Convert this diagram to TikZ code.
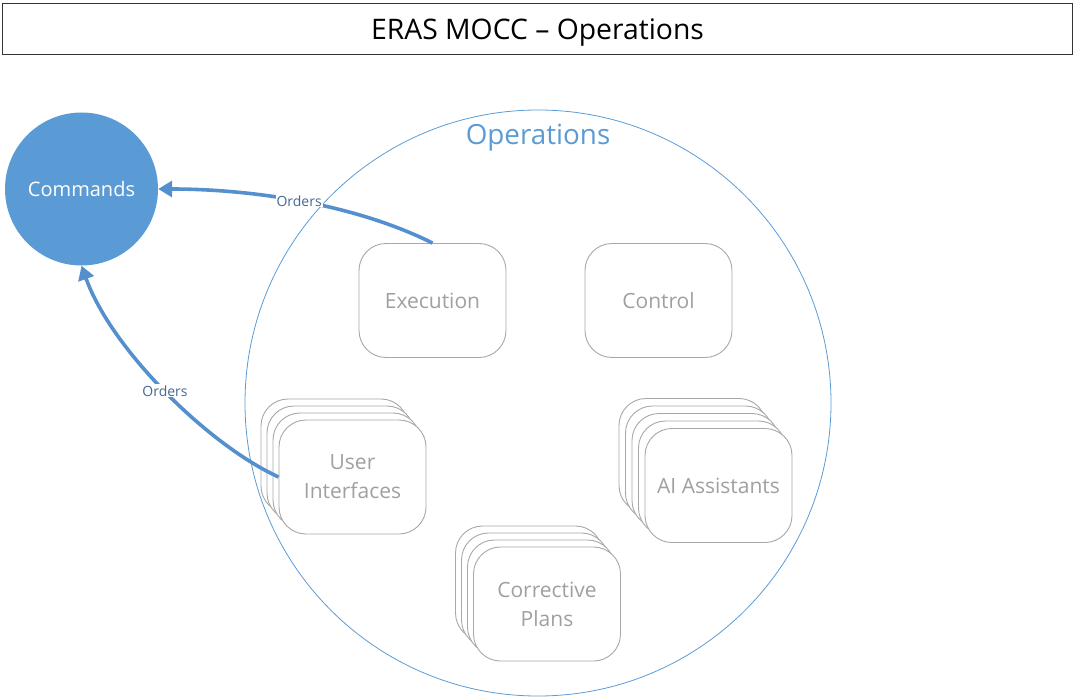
\documentclass[tikz,border=0pt]{standalone}
\usepackage{fontspec}
\setmainfont{Open Sans}
\usetikzlibrary{arrows.meta}
\definecolor{opsblue}{RGB}{91, 155, 213}
\definecolor{linkblue}{RGB}{84, 144, 205}
\definecolor{labelblue}{RGB}{68, 104, 150}
\definecolor{boxgray}{RGB}{168, 168, 168}
\definecolor{textgray}{RGB}{160, 160, 160}

\tikzset{
  unitbox/.style={draw=boxgray, line width=0.9pt, fill=white, rounded corners=27pt,
    minimum width=147pt, minimum height=114pt, inner sep=0pt, text=textgray, align=center,
    font=\fontsize{21}{29}\selectfont},
  orderlink/.style={draw=linkblue, line width=3.6pt, -{Triangle[length=14pt,width=16pt]}},
  orderlabel/.style={fill=white, text=labelblue, inner sep=1pt, font=\fontsize{14}{16}\selectfont},
}

\begin{document}
\begin{tikzpicture}[x=1pt, y=-1pt]
  \useasboundingbox (0,0) rectangle (1076,698);
  % Title
  \node[draw=black!80, line width=0.9pt, minimum width=1070pt, minimum height=51pt,
    text depth=0pt, font=\fontsize{28.3}{32}\selectfont] (title) at (537.5,29) {ERAS MOCC – Operations};
  % Operations circle
  \node[circle, draw=opsblue, line width=0.8pt, minimum size=586pt] (ops) at (538,403) {};
  \node[text=opsblue, font=\fontsize{27.8}{32}\selectfont] (opslabel) at (538,138) {Operations};
  % Commands
  \node[circle, fill=opsblue, minimum size=153pt, text=white,
    font=\fontsize{20}{24}\selectfont] (cmd) at (81.5,189) {Commands};
  % Single units
  \node[unitbox] (exec) at (432.5,300.5) {Execution};
  \node[unitbox] (ctrl) at (658.5,300.5) {Control};
  % Stacked units
  \foreach \k in {3,2,1}
    \node[unitbox] (ui\k) at (352.5-6*\k,477-7*\k) {};
  \node[unitbox] (ui) at (352.5,477) {User\\Interfaces};
  \foreach \k in {3,2,1}
    \node[unitbox] (plan\k) at (547-6*\k,604-7*\k) {};
  \node[unitbox] (plan) at (547,604) {Corrective\\Plans};
  \foreach \k in {4,3,2,1}
    \node[unitbox] (ai\k) at (718.5-6.5*\k,485.5-7.5*\k) {};
  \node[unitbox] (ai) at (718.5,485.5) {AI Assistants};
  % Orders
  \draw[orderlink] (exec.north) .. controls +(-80,-40) and +(90,0) .. (cmd.east)
    node[orderlabel, pos=0.5] (ord1) {Orders};
  \draw[orderlink] (ui.west) .. controls +(-70,-32) and +(30,84) .. (cmd.south)
    node[orderlabel, pos=0.5] (ord2) {Orders};
\end{tikzpicture}
\end{document}
